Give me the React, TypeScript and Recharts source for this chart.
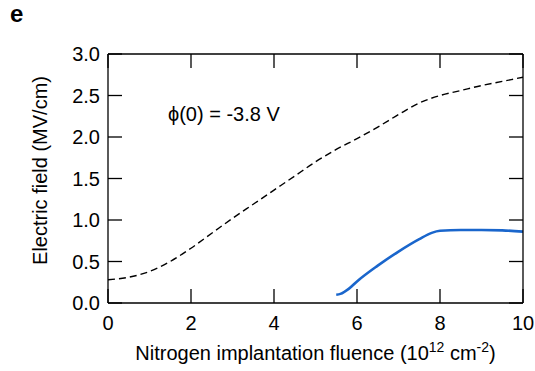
import React from 'react';
import { LineChart, Line, XAxis, YAxis, Label } from 'recharts';

const fluenceDashed = [0, 0.5, 1, 1.5, 2, 2.5, 3, 3.5, 4, 4.5, 5, 5.5, 6, 6.5, 7, 7.5, 8, 8.5, 9, 9.5, 10];
const fieldDashed = [0.28, 0.31, 0.38, 0.5, 0.66, 0.84, 1.02, 1.19, 1.36, 1.53, 1.7, 1.85, 1.98, 2.12, 2.27, 2.41, 2.5, 2.56, 2.62, 2.67, 2.72];

const fluenceBlue = [5.5, 5.6, 5.8, 6, 6.5, 7, 7.5, 7.8, 8, 8.5, 9, 9.5, 10];
const fieldBlue = [0.1, 0.11, 0.17, 0.26, 0.45, 0.62, 0.77, 0.845, 0.87, 0.88, 0.88, 0.875, 0.86];

const xTicks = [0, 2, 4, 6, 8, 10];
const yTicks = [0, 0.5, 1, 1.5, 2, 2.5, 3];

const dashedData = fluenceDashed.map((x, i) => ({ x, y: fieldDashed[i] }));
const blueData = fluenceBlue.map((x, i) => ({ x, y: fieldBlue[i] }));

const FONT = '"Liberation Sans", Arial, Helvetica, sans-serif';
const TICK_LEN = 14;
const axisLine = { stroke: '#000', strokeWidth: 1.3 };

const BottomTick = (props: any) => {
  const { x, y, payload } = props;
  return (
    <g>
      <line x1={x} x2={x} y1={y} y2={y - TICK_LEN} stroke="#000" strokeWidth={1.3} />
      <text x={x} y={y + 27} textAnchor="middle" fontSize={20} fontFamily={FONT} fill="#000">
        {payload.value}
      </text>
    </g>
  );
};

const TopTick = (props: any) => {
  const { x, y } = props;
  return <line x1={x} x2={x} y1={y} y2={y + TICK_LEN} stroke="#000" strokeWidth={1.3} />;
};

const LeftTick = (props: any) => {
  const { x, y, payload } = props;
  return (
    <g>
      <line x1={x} x2={x + TICK_LEN} y1={y} y2={y} stroke="#000" strokeWidth={1.3} />
      <text x={x - 8} y={y + 7} textAnchor="end" fontSize={20} fontFamily={FONT} fill="#000">
        {Number(payload.value).toFixed(1)}
      </text>
    </g>
  );
};

const RightTick = (props: any) => {
  const { x, y } = props;
  return <line x1={x} x2={x - TICK_LEN} y1={y} y2={y} stroke="#000" strokeWidth={1.3} />;
};

const XTitle = (props: any) => {
  const vb = props.viewBox || { x: 0, y: 0, width: 0, height: 0 };
  const cx = vb.x + vb.width / 2;
  const y = vb.y + 57;
  return (
    <text x={cx} y={y} textAnchor="middle" fontSize={20} fontFamily={FONT} fill="#000">
      Nitrogen implantation fluence (10
      <tspan dy={-8} fontSize={14}>12</tspan>
      <tspan dy={8}> cm</tspan>
      <tspan dy={-8} fontSize={14}>-2</tspan>
      <tspan dy={8}>)</tspan>
    </text>
  );
};

const YTitle = (props: any) => {
  const vb = props.viewBox || { x: 0, y: 0, width: 0, height: 0 };
  const x = vb.x + 47;
  const y = vb.y + vb.height / 2 - 8;
  return (
    <text x={x} y={y} textAnchor="middle" fontSize={20} fontFamily={FONT} fill="#000" transform={`rotate(-90 ${x} ${y})`}>
      Electric field (MV/cm)
    </text>
  );
};

export default function App() {
  return (
    <div style={{ position: 'absolute', left: 0, top: 0, width: 535, height: 371, background: '#fff' }}>
      <LineChart width={535} height={371} margin={{ top: 0, right: 0, bottom: 0, left: 0 }}>
        <XAxis
          xAxisId="b"
          type="number"
          dataKey="x"
          orientation="bottom"
          domain={[0, 10]}
          ticks={xTicks}
          allowDataOverflow
          height={68}
          axisLine={axisLine}
          tickLine={false}
          tickSize={0}
          tickMargin={0}
          tick={BottomTick}
          interval={0}
        >
          <Label content={XTitle} />
        </XAxis>
        <XAxis
          xAxisId="t"
          type="number"
          dataKey="x"
          orientation="top"
          domain={[0, 10]}
          ticks={xTicks}
          allowDataOverflow
          height={54}
          axisLine={axisLine}
          tickLine={false}
          tickSize={0}
          tickMargin={0}
          tick={TopTick}
          interval={0}
        />
        <YAxis
          yAxisId="l"
          type="number"
          orientation="left"
          domain={[0, 3]}
          ticks={yTicks}
          allowDataOverflow
          width={108}
          axisLine={axisLine}
          tickLine={false}
          tickSize={0}
          tickMargin={0}
          tick={LeftTick}
          interval={0}
        >
          <Label content={YTitle} />
        </YAxis>
        <YAxis
          yAxisId="r"
          type="number"
          orientation="right"
          domain={[0, 3]}
          ticks={yTicks}
          allowDataOverflow
          width={12}
          axisLine={axisLine}
          tickLine={false}
          tickSize={0}
          tickMargin={0}
          tick={RightTick}
          interval={0}
        />
        <Line
          xAxisId="b"
          yAxisId="l"
          data={dashedData}
          dataKey="y"
          type="monotone"
          stroke="#000"
          strokeWidth={1.4}
          strokeDasharray="7 4"
          dot={false}
          isAnimationActive={false}
        />
        <Line
          xAxisId="b"
          yAxisId="l"
          data={blueData}
          dataKey="y"
          type="monotone"
          stroke="#1a66cc"
          strokeWidth={2.6}
          dot={false}
          isAnimationActive={false}
        />
      </LineChart>
      <svg width={535} height={371} style={{ position: 'absolute', left: 0, top: 0, pointerEvents: 'none' }}>
        <text x={10} y={22} fontSize={24} fontWeight="bold" fontFamily={FONT} fill="#000">e</text>
        <text x={168} y={121} fontSize={20} fontFamily={FONT} fill="#000">ϕ(0) = -3.8 V</text>
      </svg>
    </div>
  );
}
